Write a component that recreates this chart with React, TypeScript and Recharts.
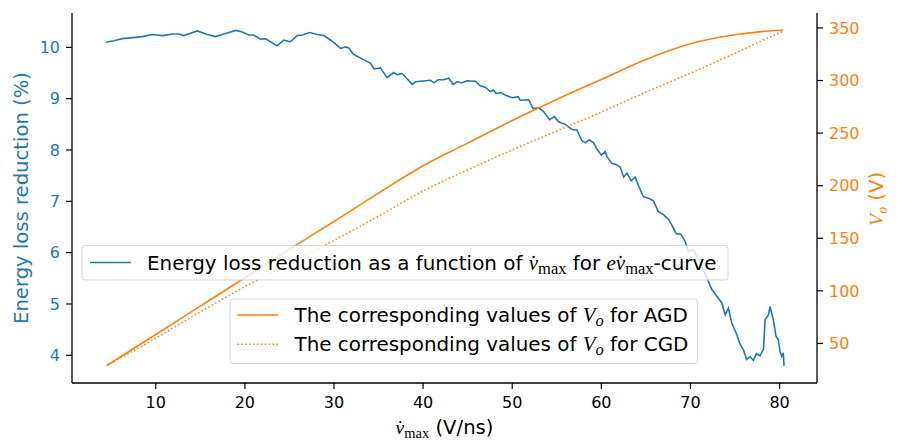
import React from 'react';
import { LineChart, Line, XAxis, YAxis, Legend, Label } from 'recharts';

const BLUE = '#1f77b4';
const ORANGE = '#ff7f0e';
const SANS = '"DejaVu Sans", sans-serif';
const MATH = '"Liberation Serif", "DejaVu Serif", serif';

// Peak slew rate (V/ns) and energy loss reduction (%)
const vmax = [
  4.4, 5.3, 6.26, 7.38, 8.5, 9.6, 10.74, 11.86, 12.6, 13.16, 14.66, 15.78, 16.7, 17.46, 18.2, 19.0,
  19.7, 20.45, 21.0, 21.76, 22.3, 23.6, 24.37, 25.1, 25.87, 26.4, 27.3, 28.1, 28.86, 29.8, 30.73,
  31.3, 31.66, 32.15, 33.0, 34.1, 34.5, 35.2, 35.96, 36.7, 37.08, 37.64, 38.2, 38.77, 39.14, 40.82,
  41.2, 41.7, 42.3, 42.87, 43.36, 43.8, 44.37, 44.93, 45.86, 46.42, 47.0, 47.55, 47.9, 48.2, 48.74,
  49.2, 49.98, 50.65, 50.9, 51.84, 52.33, 52.96, 53.52, 54.2, 54.72, 55.2, 55.95, 56.7, 57.26, 57.82,
  58.2, 58.64, 59.13, 59.5, 60.0, 60.44, 60.63, 61.2, 61.75, 62.12, 62.5, 62.87, 63.35, 63.8, 64.28,
  64.73, 65.3, 65.85, 66.4, 66.97, 67.53, 67.9, 68.4, 68.92, 69.4, 69.78, 70.34, 70.7, 71.1, 71.84,
  72.4, 72.96, 73.52, 73.9, 74.26, 74.64, 75.2, 75.57, 75.94, 76.3, 76.7, 77.06, 77.4, 77.8, 78.2,
  78.37, 78.75, 78.93, 79.3, 79.6, 79.86, 80.05, 80.24, 80.42, 80.5,
];
const energyReduction = [
  10.1, 10.13, 10.17, 10.19, 10.21, 10.25, 10.23, 10.26, 10.26, 10.23, 10.32, 10.25, 10.21, 10.25, 10.29, 10.33,
  10.3, 10.24, 10.24, 10.16, 10.17, 10.03, 10.14, 10.11, 10.23, 10.24, 10.29, 10.25, 10.23, 10.12, 9.98,
  10.01, 9.99, 9.87, 9.79, 9.69, 9.58, 9.6, 9.41, 9.51, 9.47, 9.49, 9.39, 9.28, 9.33, 9.36,
  9.31, 9.37, 9.37, 9.4, 9.28, 9.33, 9.31, 9.35, 9.34, 9.25, 9.22, 9.14, 9.17, 9.1, 9.12,
  9.07, 9.02, 9.04, 8.97, 8.98, 8.81, 8.82, 8.75, 8.59, 8.65, 8.55, 8.5, 8.4, 8.39, 8.18,
  8.14, 8.2, 8.14, 8.02, 7.9, 7.97, 7.87, 7.74, 7.71, 7.67, 7.47, 7.55, 7.4, 7.47, 7.26,
  7.09, 7.06, 7.01, 6.8, 6.74, 6.65, 6.54, 6.37, 6.36, 6.22, 6.02, 6.06, 5.93, 5.8, 5.51,
  5.28, 5.15, 5.02, 4.79, 4.92, 4.63, 4.4, 4.21, 4.11, 3.92, 3.97, 3.9, 4.03, 3.99, 4.12,
  4.69, 4.79, 4.95, 4.69, 4.37, 4.3, 4.08, 3.98, 4.05, 3.79,
];

// Output voltage V_o (V) for AGD
const agdVmax = [4.5, 10, 15, 20, 25, 30, 35, 40, 45, 50, 55, 60, 65, 70, 75, 78, 80.4];
const agdVo = [29, 58.5, 85.5, 112.5, 139.5, 166, 193, 219, 240.5, 262, 282, 301, 320, 335, 343.5, 346.5, 348];

// Output voltage V_o (V) for CGD
const cgdVmax = [4.5, 10, 15, 20, 25, 30, 35, 40, 45, 50, 55, 60, 65, 70, 75, 80, 80.4];
const cgdVo = [29, 55, 80, 104, 126, 148, 171, 195, 215, 234, 252, 270, 289, 307, 326, 345.5, 347];

const xTicks = [10, 20, 30, 40, 50, 60, 70, 80];
const leftTicks = [4, 5, 6, 7, 8, 9, 10];
const rightTicks = [50, 100, 150, 200, 250, 300, 350];

const energyData = vmax.map((v, i) => ({ v, y: energyReduction[i] }));
const agdData = agdVmax.map((v, i) => ({ v, y: agdVo[i] }));
const cgdData = cgdVmax.map((v, i) => ({ v, y: cgdVo[i] }));

const FS = 19.6;
const LEG_FS = 19.9;
const SUB = 14.5;
const SUBDY = 4;
const LEG_MATH = 21;
const LEG_SUB = 16.5;

const Vdot = ({ size }: { size?: number }) => (
  <tspan fontFamily={MATH} fontStyle="italic" fontSize={size}>{'v\u0307'}</tspan>
);

function XAxisTitle(props: any) {
  const vb = props.viewBox || { x: 72, y: 383, width: 745 };
  const cx = vb.x + vb.width / 2;
  return (
    <text x={cx} y={433.5} textAnchor="middle" fontFamily={SANS} fontSize={FS} fill="#000">
      <Vdot />
      <tspan fontFamily={MATH} fontSize={SUB} dy={SUBDY}>max</tspan>
      <tspan dy={-SUBDY}> (V/ns)</tspan>
    </text>
  );
}

function LeftTitle() {
  return (
    <text x={27.5} y={198} transform="rotate(-90 27.5 198)" textAnchor="middle" fontFamily={SANS} fontSize={FS} fill={BLUE}>
      Energy loss reduction (%)
    </text>
  );
}

function RightTitle() {
  return (
    <text x={882.5} y={199} transform="rotate(-90 882.5 199)" textAnchor="middle" fontFamily={SANS} fontSize={FS} fill={ORANGE}>
      <tspan fontFamily={MATH} fontStyle="italic">V</tspan>
      <tspan fontFamily={MATH} fontStyle="italic" fontSize={SUB} dy={SUBDY}>o</tspan>
      <tspan dy={-SUBDY}> (V)</tspan>
    </text>
  );
}

function legendLabel(key: string) {
  if (key === 'energy') {
    return (
      <>
        <tspan>Energy loss reduction as a function of </tspan>
        <Vdot size={LEG_MATH} />
        <tspan fontFamily={MATH} fontSize={LEG_SUB} dy={SUBDY}>max</tspan>
        <tspan dy={-SUBDY}> for </tspan>
        <tspan fontFamily={MATH} fontStyle="italic" fontSize={LEG_MATH}>e</tspan>
        <Vdot size={LEG_MATH} />
        <tspan fontFamily={MATH} fontSize={LEG_SUB} dy={SUBDY}>max</tspan>
        <tspan dy={-SUBDY}>-curve</tspan>
      </>
    );
  }
  const tag = key === 'agd' ? 'AGD' : 'CGD';
  return (
    <>
      <tspan>The corresponding values of </tspan>
      <tspan fontFamily={MATH} fontStyle="italic" fontSize={LEG_MATH}>V</tspan>
      <tspan fontFamily={MATH} fontStyle="italic" fontSize={LEG_SUB} dy={SUBDY}>o</tspan>
      <tspan dy={-SUBDY}> for {tag}</tspan>
    </>
  );
}

const legendRows: Record<string, { x: number; y: number }> = {
  energy: { x: 90, y: 262.5 },
  agd: { x: 237.5, y: 315 },
  cgd: { x: 237.5, y: 344.3 },
};

function LegendBoxes(props: any) {
  const payload: any[] = props.payload || [];
  return (
    <svg width={898} height={448} style={{ position: 'absolute', left: 0, top: 0 }}>
      <rect x={82} y={245.5} width={646} height={34.5} rx={3} fill="#fff" fillOpacity={0.8} stroke="#cccccc" strokeOpacity={0.8} />
      <rect x={230} y={299} width={467.5} height={64.5} rx={3} fill="#fff" fillOpacity={0.8} stroke="#cccccc" strokeOpacity={0.8} />
      {payload.map((entry: any) => {
        const key = entry.value;
        const row = legendRows[key];
        if (!row) return null;
        const dotted = key === 'cgd';
        return (
          <g key={key}>
            <line x1={row.x} x2={row.x + 41} y1={row.y} y2={row.y} stroke={entry.color} strokeWidth={1.6} strokeDasharray={dotted ? '1.5 2.4' : undefined} />
            <text x={row.x + 57} y={row.y + 7} fontFamily={SANS} fontSize={LEG_FS} fill="#000">
              {legendLabel(key)}
            </text>
          </g>
        );
      })}
    </svg>
  );
}

export default function App() {
  return (
    <div style={{ position: 'absolute', left: 0, top: 0, width: 898, height: 448, background: '#fff' }}>
      <LineChart width={898} height={448} margin={{ top: 13, right: 0, bottom: 0, left: 0 }}>
        <XAxis
          xAxisId="bottom"
          dataKey="v"
          type="number"
          domain={[0.6, 84.2]}
          ticks={xTicks}
          allowDataOverflow
          height={65}
          tickSize={6}
          tickMargin={8}
          tick={{ fill: '#000', fontSize: 16, fontFamily: SANS }}
          tickLine={{ stroke: '#000', strokeWidth: 1.2 }}
          axisLine={{ stroke: '#000', strokeWidth: 1.3 }}
        >
          <Label content={<XAxisTitle />} />
        </XAxis>
        <XAxis
          xAxisId="top"
          orientation="top"
          dataKey="v"
          type="number"
          domain={[0.6, 84.2]}
          height={0}
          tick={false}
          tickLine={false}
          axisLine={{ stroke: '#000', strokeWidth: 1.3 }}
        />
        <YAxis
          yAxisId="left"
          orientation="left"
          type="number"
          domain={[3.46, 10.67]}
          ticks={leftTicks}
          allowDataOverflow
          width={72}
          tickSize={6}
          tickMargin={6}
          tick={{ fill: BLUE, fontSize: 16, fontFamily: SANS }}
          tickLine={{ stroke: '#000', strokeWidth: 1.2 }}
          axisLine={{ stroke: '#000', strokeWidth: 1.3 }}
        >
          <Label content={<LeftTitle />} />
        </YAxis>
        <YAxis
          yAxisId="right"
          orientation="right"
          type="number"
          domain={[12.4, 364.2]}
          ticks={rightTicks}
          allowDataOverflow
          width={81}
          tickSize={6}
          tickMargin={6}
          tick={{ fill: ORANGE, fontSize: 16, fontFamily: SANS }}
          tickLine={{ stroke: '#000', strokeWidth: 1.2 }}
          axisLine={{ stroke: '#000', strokeWidth: 1.3 }}
        >
          <Label content={<RightTitle />} />
        </YAxis>
        <Line
          data={energyData}
          dataKey="y"
          name="energy"
          xAxisId="bottom"
          yAxisId="left"
          type="linear"
          stroke={BLUE}
          strokeWidth={1.6}
          dot={false}
          isAnimationActive={false}
        />
        <Line
          data={agdData}
          dataKey="y"
          name="agd"
          xAxisId="bottom"
          yAxisId="right"
          type="monotone"
          stroke={ORANGE}
          strokeWidth={1.6}
          dot={false}
          isAnimationActive={false}
        />
        <Line
          data={cgdData}
          dataKey="y"
          name="cgd"
          xAxisId="bottom"
          yAxisId="right"
          type="monotone"
          stroke={ORANGE}
          strokeWidth={1.6}
          strokeDasharray="1.5 2.4"
          dot={false}
          isAnimationActive={false}
        />
        <Legend
          layout="horizontal"
          verticalAlign="middle"
          align="center"
          wrapperStyle={{ position: 'absolute', left: 0, top: 0, width: 898, height: 448, pointerEvents: 'none' }}
          content={<LegendBoxes />}
        />
      </LineChart>
    </div>
  );
}
